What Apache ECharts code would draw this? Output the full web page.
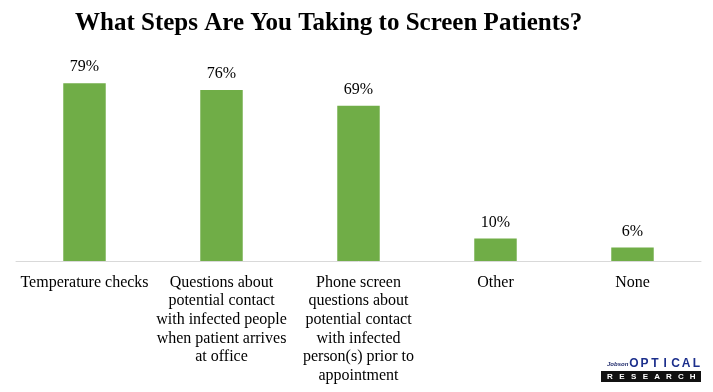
<!DOCTYPE html>
<html><head><meta charset="utf-8">
<script src="https://cdn.jsdelivr.net/npm/echarts@6/dist/echarts.min.js"></script>
<style>html,body{margin:0;padding:0;background:#fff}#c{width:713px;height:392px}</style>
</head><body><div id="c"></div>
<script>
const categories = [
  "Temperature checks",
  "Questions about\npotential contact\nwith infected people\nwhen patient arrives\nat office",
  "Phone screen\nquestions about\npotential contact\nwith infected\nperson(s) prior to\nappointment",
  "Other",
  "None"
];
const values = [79, 76, 69, 10, 6];
const titleText = "What Steps Are You Taking to Screen Patients?";

const logoTop = "OPTICAL".split('');
const logoBottom = "RESEARCH".split('');
const graphics = [
  { type: 'text', left: 607, top: 361, style: { text: 'Jobson', fontFamily: 'Liberation Sans', fontStyle: 'italic', fontWeight: 'bold', fontSize: 6, fill: '#1f2a6b' } },
  { type: 'rect', shape: { x: 601, y: 371, width: 100, height: 11 }, style: { fill: '#111' } }
];
logoTop.forEach((ch, i) => graphics.push({
  type: 'text', x: 634 + i * 10.4, y: 363.5, style: { text: ch, align: 'center', verticalAlign: 'middle', fontFamily: 'Liberation Sans', fontWeight: 'bold', fontSize: 12, fill: '#1c2f8c' }
}));
logoBottom.forEach((ch, i) => graphics.push({
  type: 'text', x: 610 + i * 11.8, y: 376.5, style: { text: ch, align: 'center', verticalAlign: 'middle', fontFamily: 'Liberation Sans', fontWeight: 'bold', fontSize: 8, fill: '#fff' }
}));

const chart = echarts.init(document.getElementById('c'));
chart.setOption({
  animation: false,
  backgroundColor: '#fff',
  title: {
    text: titleText, left: 70, top: 6,
    textStyle: { fontFamily: 'Liberation Serif', fontWeight: 'bold', fontSize: 25, color: '#000' }
  },
  grid: { left: 16, right: 12, top: 36, bottom: 131 },
  xAxis: {
    type: 'category', data: categories,
    axisLine: { lineStyle: { color: '#d9d9d9', width: 1 } },
    axisTick: { show: false },
    axisLabel: {
      interval: 0, color: '#000', fontFamily: 'Liberation Serif', fontSize: 16,
      lineHeight: 18.7, margin: 12, align: 'center'
    }
  },
  yAxis: { type: 'value', min: 0, max: 100, show: false, splitLine: { show: false } },
  series: [{
    type: 'bar', data: values, barWidth: '31%',
    itemStyle: { color: '#70ad47' },
    label: {
      show: true, position: 'top', distance: 8, formatter: '{c}%',
      color: '#000', fontFamily: 'Liberation Serif', fontSize: 16
    }
  }],
  graphic: graphics
});
</script></body></html>
